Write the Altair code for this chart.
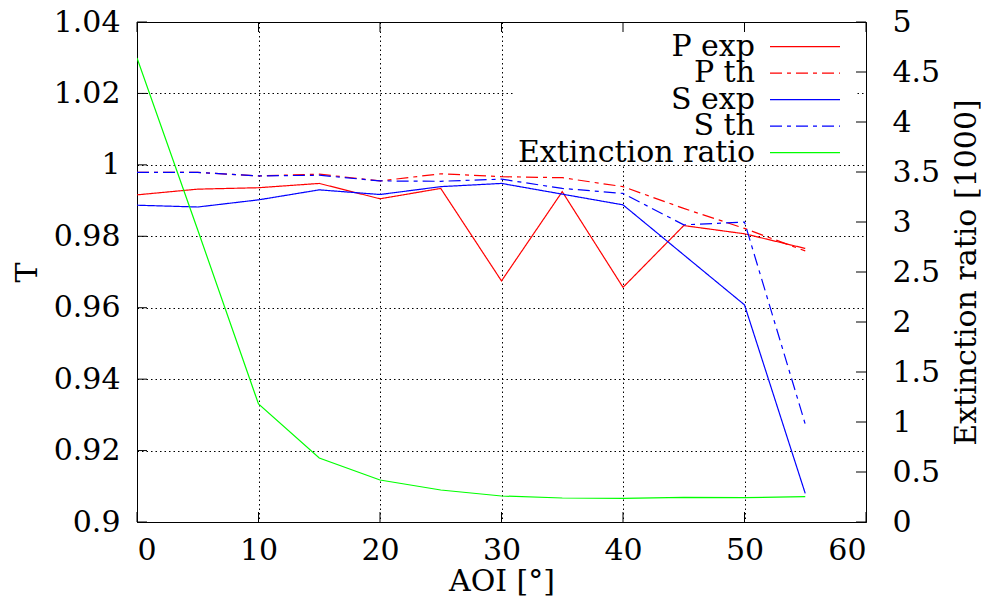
import altair as alt
import pandas as pd

# ---- data ----
aoi = [0, 5, 10, 15, 20, 25, 30, 35, 40, 45, 50, 55]
p_exp = [0.9916, 0.9932, 0.9936, 0.9948, 0.9905, 0.9934, 0.9675, 0.9925, 0.9657, 0.9830, 0.9807, 0.9766]
p_th = [0.9979, 0.9979, 0.9969, 0.9974, 0.9955, 0.9975, 0.9967, 0.9964, 0.9939, 0.9878, 0.9822, 0.9759]
s_exp = [0.9887, 0.9882, 0.9902, 0.9930, 0.9917, 0.9939, 0.9948, 0.9918, 0.9888, 0.9748, 0.9608, 0.9080]
s_th = [0.9979, 0.9979, 0.9969, 0.9971, 0.9955, 0.9954, 0.9960, 0.9934, 0.9920, 0.9832, 0.9840, 0.9274]
ext_ratio = [4.64, 2.92, 1.18, 0.64, 0.42, 0.32, 0.26, 0.24, 0.237, 0.247, 0.243, 0.253]

series_names = ["P exp", "P th", "S exp", "S th", "Extinction ratio"]
series_colors = ["#ff0000", "#ff0000", "#0000ff", "#0000ff", "#00ff00"]
series_dash = [[1, 0], [12, 5, 4, 5], [1, 0], [12, 5, 4, 5], [1, 0]]

x_ticks = [0, 10, 20, 30, 40, 50, 60]
y_ticks = [0.9, 0.92, 0.94, 0.96, 0.98, 1.0, 1.02, 1.04]
y2_ticks = [0, 0.5, 1, 1.5, 2, 2.5, 3, 3.5, 4, 4.5, 5]

FONT = "DejaVu Serif"
FS = 30
W, H = 729, 500

rows = []
for name, vals in zip(series_names[:4], [p_exp, p_th, s_exp, s_th]):
    for a, v in zip(aoi, vals):
        rows.append({"series": name, "aoi": a, "T": v})
df_t = pd.DataFrame(rows)
df_e = pd.DataFrame({"series": "Extinction ratio", "aoi": aoi, "ext": ext_ratio})
df_leg = pd.DataFrame({"series": series_names, "row": list(range(len(series_names)))})
df_xt = pd.DataFrame({"v": x_ticks})
df_yt = pd.DataFrame({"v": y_ticks})
df_y2t = pd.DataFrame({"v": y2_ticks})

xscale = alt.Scale(domain=[0, 60], nice=False, zero=False)
yscale = alt.Scale(domain=[0.9, 1.04], nice=False, zero=False)
y2scale = alt.Scale(domain=[0, 5], nice=False, zero=False)
cscale = alt.Scale(domain=series_names, range=series_colors)
dscale = alt.Scale(domain=series_names, range=series_dash)

xaxis = alt.Axis(values=x_ticks, format="d", grid=True, gridColor="#000000", gridDash=[1.5, 3],
                 gridOpacity=1, gridWidth=1, ticks=False, tickSize=0, domain=False,
                 labelPadding=13, labelFontSize=FS, title="AOI [°]", titleFontSize=FS,
                 titleX=W / 2, titleY=68, titleAnchor="middle", titleBaseline="alphabetic",
                 titleFontWeight="normal")
yaxis = alt.Axis(values=y_ticks, format=".2~f", grid=True, gridColor="#000000", gridDash=[1.5, 3],
                 gridOpacity=1, gridWidth=1, ticks=False, tickSize=0, domain=False,
                 labelPadding=17, labelFontSize=FS, title="T", titleFontSize=FS,
                 titleAngle=-90, titleX=-101, titleY=H / 2, titleAlign="center",
                 titleBaseline="alphabetic", titleFontWeight="normal")
y2axis = alt.Axis(values=y2_ticks, format=".1~f", orient="right", grid=False, ticks=False,
                  tickSize=0, domain=False, labelPadding=26, labelFontSize=FS,
                  title="Extinction ratio [1000]", titleFontSize=FS, titleAngle=-90,
                  titleX=109, titleY=H / 2, titleAlign="center", titleBaseline="alphabetic",
                  titleFontWeight="normal")

x_enc = alt.X("aoi:Q", scale=xscale, axis=xaxis)

t_lines = alt.Chart(df_t).mark_line(strokeWidth=1.2, clip=True).encode(
    x=x_enc,
    y=alt.Y("T:Q", scale=yscale, axis=yaxis),
    color=alt.Color("series:N", scale=cscale, legend=None),
    strokeDash=alt.StrokeDash("series:N", scale=dscale, legend=None),
    detail="series:N",
    order=alt.Order("aoi:Q"),
)

# white key box (covers grid as gnuplot's opaque key does)
key_box = alt.Chart(df_leg).mark_rect(color="white").encode(
    x=alt.value(378), x2=alt.value(720), y=alt.value(1), y2=alt.value(142)
)

leg_text = alt.Chart(df_leg).mark_text(
    align="right", baseline="middle", font=FONT, fontSize=FS, color="black"
).transform_calculate(py="24.7 + datum.row * 26.5").encode(
    x=alt.value(618), y=alt.Y("py:Q", scale=None), text="series:N"
)
leg_line = alt.Chart(df_leg).mark_rule(strokeWidth=1.2).transform_calculate(
    py="24.7 + datum.row * 26.5"
).encode(
    x=alt.value(633), x2=alt.value(703), y=alt.Y("py:Q", scale=None),
    color=alt.Color("series:N", scale=cscale, legend=None),
    strokeDash=alt.StrokeDash("series:N", scale=dscale, legend=None),
)

xt_bottom = alt.Chart(df_xt).mark_rule(color="black", strokeWidth=1).encode(
    x=alt.X("v:Q", scale=xscale), y=alt.value(H), y2=alt.value(H - 10))
xt_top = alt.Chart(df_xt).mark_rule(color="black", strokeWidth=1).encode(
    x=alt.X("v:Q", scale=xscale), y=alt.value(0), y2=alt.value(10))
yt_left = alt.Chart(df_yt).mark_rule(color="black", strokeWidth=1).encode(
    y=alt.Y("v:Q", scale=yscale), x=alt.value(0), x2=alt.value(10))

left = alt.layer(key_box, t_lines, yt_left, xt_bottom, xt_top, leg_text, leg_line)

e_line = alt.Chart(df_e).mark_line(strokeWidth=1.2, color="#00ff00", clip=True).encode(
    x=alt.X("aoi:Q", scale=xscale),
    y=alt.Y("ext:Q", scale=y2scale, axis=y2axis),
    order=alt.Order("aoi:Q"),
)
yt_right = alt.Chart(df_y2t).mark_rule(color="black", strokeWidth=1).encode(
    y=alt.Y("v:Q", scale=y2scale), x=alt.value(W - 10), x2=alt.value(W))

right = alt.layer(e_line, yt_right)

chart = alt.layer(left, right).resolve_scale(y="independent").properties(
    width=W, height=H,
    autosize=alt.AutoSizeParams(type="none"),
    padding={"left": 137, "top": 22, "right": 115, "bottom": 82},
    background="white",
).configure_view(stroke="black", strokeWidth=1).configure_axis(
    labelFont=FONT, titleFont=FONT, labelColor="black", titleColor="black"
).configure_text(font=FONT)

chart.save("out.html", embed_options={"renderer": "svg", "actions": False})
